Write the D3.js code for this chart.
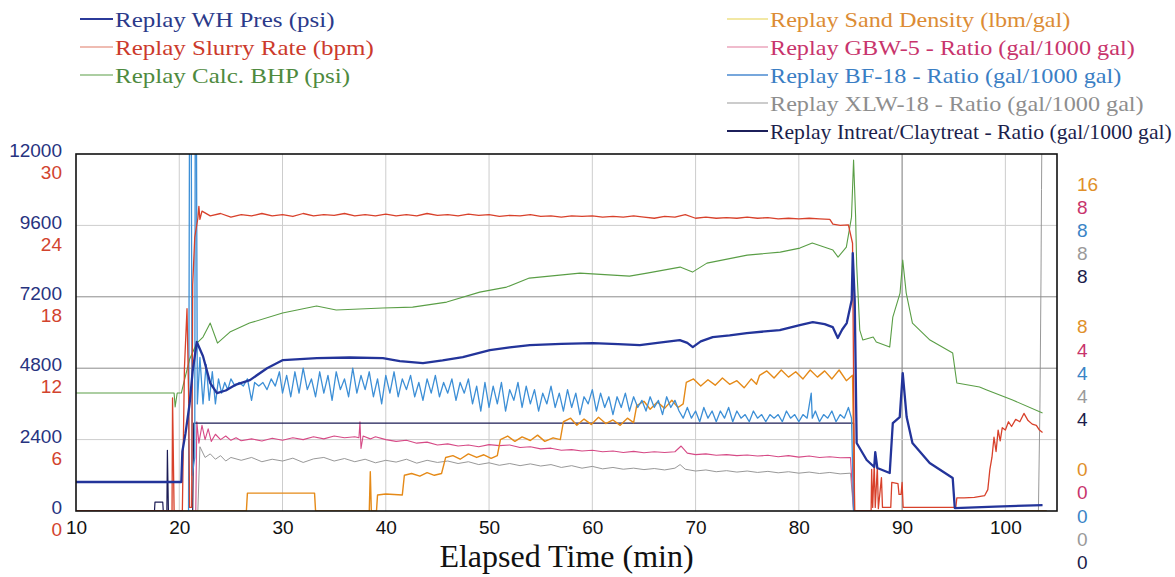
<!DOCTYPE html>
<head>
  <meta charset="utf-8">
  <title>Replay</title>
  <style>
  body { margin: 0; background: #fff; }
  .tick text { font: 19px "Liberation Sans", Arial, sans-serif; }
  .legend text { font: 22px "Liberation Serif", "Times New Roman", serif; }
  .series { fill: none; stroke-linejoin: round; }
  </style>
</head>

<svg id="chart"></svg>

<script src="https://cdn.jsdelivr.net/npm/d3@7/dist/d3.min.js"></script>

<script>
"use strict";

var totalWidth = 1175,
    totalHeight = 577;

// ticks
var timeTicks = [10, 20, 30, 40, 50, 60, 70, 80, 90, 100];
var psiTicks = [0, 2400, 4800, 7200, 9600, 12000];
var bpmTicks = [0, 6, 12, 18, 24, 30];
var sandTicks = [0, 8, 16];
var ratioTicks = [0, 4, 8];

// series, [minutes, value]
var whPres = [[10,975],[20.2,975],[20.3,2000],[20.6,2600],[21.0,3600],[21.3,4700],[21.7,5680],[22.3,5200],[23.0,4300],[23.65,3965],[24.5,4050],[25.5,4250],[26.84,4400],[28.5,4800],[30.04,5074],[33.33,5141],[36.5,5160],[39.72,5141],[41.36,5040],[43.6,4973],[45.5,5060],[47.46,5174],[50.08,5410],[52,5500],[53.95,5578],[57,5620],[60.05,5645],[62.5,5610],[64.6,5578],[66.5,5660],[68.47,5746],[69.2,5650],[69.73,5510],[70.5,5700],[71.66,5846],[73.3,5900],[74.96,5981],[78.15,6082],[80.09,6250],[81.35,6350],[82.5,6280],[83.28,6182],[83.77,5813],[84.2,6100],[84.64,6317],[85.12,7090],[85.22,8669],[85.41,7090],[85.6,2285],[86.57,1714],[87.3,1478],[87.4,1982],[87.6,1445],[88.8,1277],[89.1,2957],[89.77,3158],[90.06,4637],[90.44,3158],[91.0,2285],[92.67,1613],[94.9,1109],[95.1,100],[99,150],[103.6,200]];

var slurryRate = [[10,0],[19.3,0],[19.35,9.5],[19.5,0],[20.3,0],[20.5,12],[20.75,17],[20.9,10],[21.0,0.3],[21.2,0.3],[21.3,19],[21.5,23],[21.8,24.6],[21.9,25.6],[22.0,24.5],[22.2,25.2],[23,24.8],[24,25.0],[25,24.7],[26,24.9],[27,24.8],[28,25.0],[29,24.8],[30,24.9],[31,24.75],[32,25.0],[33,24.8],[34,24.9],[35,24.85],[36,25.0],[37,24.8],[38,24.9],[39,24.8],[40,24.95],[41,24.8],[42,24.9],[43,24.8],[44,25.0],[45,24.85],[46,24.9],[47,24.8],[48,24.95],[49,24.85],[50,24.9],[51,24.75],[52,24.85],[53,24.8],[54,24.9],[55,24.75],[56,24.8],[57,24.7],[58,24.8],[59,24.75],[60,24.8],[61,24.7],[62,24.75],[63,24.7],[64,24.8],[65,24.7],[66,24.6],[67,24.75],[68,24.7],[69,24.9],[70,24.6],[71,24.7],[72,24.6],[73,24.65],[74,24.6],[75,24.7],[76,24.6],[77,24.65],[78,24.55],[79,24.6],[80,24.55],[81,24.6],[82,24.55],[83,24.5],[83.3,24.1],[84,24.0],[84.8,24.05],[85.2,22.5],[85.4,0],[87.0,0],[87.05,3.5],[87.15,0.3],[87.3,3.9],[87.4,0.3],[87.6,3.7],[87.7,0.2],[88.0,2.8],[88.1,0.3],[88.9,0.3],[89.0,2.4],[89.6,2.3],[89.7,1.4],[89.9,1.4],[90.0,2.4],[90.1,0.3],[95.2,0.3],[95.3,1.1],[96,1.1],[97,1.15],[98,1.3],[98.3,1.8],[98.5,3.5],[98.7,4.5],[98.9,6.2],[99.1,5.0],[99.3,6.8],[99.5,5.9],[99.7,7.0],[100,6.8],[100.3,7.5],[100.6,7.1],[101,7.7],[101.4,7.5],[101.8,8.2],[102.2,7.6],[102.6,7.3],[103,7.2],[103.3,6.8],[103.6,6.6]];

var calcBhp = [[10,3965],[19.5,3965],[19.6,3500],[19.8,3965],[20.2,3965],[20.5,4400],[21.0,5100],[21.7,5645],[22.3,5846],[23.0,6317],[23.7,5645],[24.9,6014],[26.8,6317],[30.0,6653],[33.3,6888],[35.2,6754],[39.7,6821],[42.6,6854],[45.9,7022],[49.1,7358],[51.7,7526],[53.9,7829],[58.8,7997],[63.6,7896],[65.3,7997],[68.5,8198],[69.7,8030],[71.1,8333],[75.0,8602],[78.2,8702],[80.1,8837],[81.3,9005],[83.3,8770],[83.8,8534],[84.6,8870],[85.1,9878],[85.3,11794],[85.5,9878],[85.6,8266],[85.9,6082],[86.2,5746],[87.2,5846],[87.5,5678],[88.8,5510],[89.1,6518],[89.8,7325],[90.06,8434],[90.4,7325],[91.0,6317],[92.7,5746],[94.9,5309],[95.3,4301],[97.5,4166],[98.2,4066],[100.7,3730],[103.6,3293]];

var sandDensity = [[10,0],[26.5,0],[26.6,1.0],[33.1,1.0],[33.2,0],[38.4,0],[38.5,2.2],[38.6,0],[39.1,0],[39.2,0.9],[40,0.95],[41.6,0.9],[41.8,2.0],[42.5,2.1],[43.3,1.95],[44,2.15],[44.7,2.0],[45.4,2.1],[45.8,3.0],[46.5,3.1],[47.2,2.9],[48,3.2],[48.8,3.0],[49.5,3.15],[50.2,2.95],[50.8,3.1],[51.1,4.0],[51.8,4.2],[52.5,3.9],[53.2,4.15],[54,3.95],[54.7,4.25],[55.4,3.9],[56.2,4.1],[56.9,4.0],[57.2,5.0],[57.9,5.2],[58.5,4.8],[59.2,5.15],[59.9,4.85],[60.6,5.25],[61.3,4.9],[62,5.1],[62.7,4.8],[63.4,5.2],[64,4.95],[64.3,5.9],[65,6.15],[65.6,5.7],[66.3,6.1],[67,5.75],[67.7,6.2],[68.3,5.8],[68.8,6.0],[69.1,7.2],[69.8,7.4],[70.5,7.0],[71.2,7.35],[71.9,7.05],[72.6,7.45],[73.3,7.1],[74,7.3],[74.7,6.9],[75.4,7.4],[75.9,7.1],[76.2,7.6],[76.9,7.85],[77.6,7.45],[78.3,7.9],[79,7.5],[79.7,7.8],[80.4,7.4],[81.1,7.9],[81.8,7.5],[82.5,7.85],[83.2,7.4],[83.9,7.9],[84.6,7.3],[85.2,7.6],[85.4,0],[104,0]];

var gbw5 = [[21.6,0],[21.7,2.5],[21.9,1.9],[22.2,2.4],[22.5,2.0],[22.8,2.3],[23.1,1.95],[23.5,2.15],[24,2.0],[24.5,2.1],[25,1.98],[25.5,2.05],[26,1.97],[27,2.02],[28,1.96],[29,2.04],[30,1.98],[31,2.05],[32,2.0],[33,2.08],[34,2.02],[35,2.1],[36,2.05],[37,2.08],[37.4,2.05],[37.5,2.5],[37.6,1.75],[37.8,2.1],[38.5,2.02],[39,2.08],[40,2.0],[41,1.95],[42,1.98],[43,1.9],[44,1.93],[45,1.85],[46,1.88],[47,1.82],[48,1.85],[49,1.8],[50,1.86],[51,1.83],[52,1.85],[53,1.78],[54,1.8],[55,1.74],[56,1.76],[57,1.7],[58,1.72],[59,1.68],[60,1.7],[61,1.66],[62,1.68],[63,1.64],[64,1.67],[65,1.63],[66,1.66],[67,1.64],[68,1.66],[68.6,1.82],[69.2,1.62],[70,1.58],[71,1.6],[72,1.56],[73,1.58],[74,1.55],[75,1.57],[76,1.54],[77,1.56],[78,1.52],[79,1.55],[80,1.51],[81,1.54],[82,1.5],[83,1.52],[84,1.49],[85,1.5],[85.3,0]];

var bf18 = [[20.9,0],[21.0,12],[21.15,12],[21.25,1],[21.5,1.5],[21.55,12],[21.65,12],[21.75,3.0],[22.0,4.3],[22.3,3.0],[22.6,4.1],[22.9,3.1],[23.2,3.9],[23.5,3.0],[23.8,3.7],[24.1,3.3],[24.4,3.6],[24.7,3.4],[25.0,3.7],[25.4,3.5],[25.8,3.6],[26.2,3.5],[26.6,3.7],[27.0,3.1],[27.3,3.6],[27.7,3.5],[28.1,3.6],[28.5,3.4],[28.9,3.7],[29.3,3.5],[29.7,3.9],[30.0,3.3],[30.4,3.8],[30.8,3.2],[31.2,3.9],[31.6,3.3],[32.0,4.0],[32.4,3.4],[32.8,3.7],[33.2,3.2],[33.6,3.9],[34.0,3.3],[34.4,3.8],[34.8,3.1],[35.2,3.9],[35.6,3.4],[36.0,3.7],[36.4,3.2],[36.8,4.0],[37.2,3.3],[37.6,3.8],[38.0,3.4],[38.4,3.9],[38.8,3.2],[39.2,3.7],[39.6,3.0],[40.0,3.8],[40.4,3.3],[40.8,3.9],[41.2,3.2],[41.6,3.7],[42.0,3.4],[42.4,3.8],[42.8,3.2],[43.2,3.6],[43.6,3.1],[44.0,3.7],[44.4,3.3],[44.8,3.8],[45.2,3.2],[45.6,3.6],[46.0,3.3],[46.4,3.7],[46.8,3.1],[47.2,3.6],[47.6,3.3],[48.0,3.7],[48.4,3.0],[48.8,3.5],[49.2,2.8],[49.6,3.6],[50.0,2.9],[50.4,3.5],[50.8,3.0],[51.2,3.6],[51.6,2.8],[52.0,3.4],[52.4,3.1],[52.8,3.6],[53.2,2.9],[53.6,3.5],[54.0,3.0],[54.4,3.4],[54.8,2.8],[55.2,3.3],[55.6,3.0],[56.0,3.5],[56.4,2.9],[56.8,3.3],[57.2,2.8],[57.6,3.4],[58.0,2.9],[58.4,3.3],[58.8,2.7],[59.2,3.2],[59.6,3.0],[60.0,3.4],[60.4,2.8],[60.8,3.3],[61.2,2.9],[61.6,3.2],[62.0,2.7],[62.4,3.2],[62.8,2.9],[63.2,3.3],[63.6,2.8],[64.0,3.2],[64.4,2.9],[64.8,3.1],[65.2,2.8],[65.6,3.2],[66.0,2.9],[66.4,3.1],[66.8,2.7],[67.2,3.2],[67.6,2.9],[68.0,3.1],[68.4,2.8],[68.8,2.6],[69.2,2.9],[69.6,2.6],[70.0,2.8],[70.4,2.5],[70.8,2.9],[71.2,2.6],[71.6,2.8],[72.0,2.5],[72.4,2.8],[72.8,2.6],[73.2,2.9],[73.6,2.5],[74.0,2.8],[74.4,2.6],[74.8,2.7],[75.2,2.5],[75.6,2.8],[76.0,2.6],[76.4,2.7],[76.8,2.5],[77.2,2.7],[77.6,2.6],[78.0,2.7],[78.4,2.5],[78.8,2.8],[79.2,2.6],[79.6,2.7],[80.0,2.5],[80.4,2.7],[80.8,2.6],[81.2,3.3],[81.3,2.6],[81.6,2.8],[82.0,2.5],[82.4,2.7],[82.8,2.6],[83.2,2.8],[83.6,2.5],[84.0,2.7],[84.4,2.6],[84.8,2.9],[85.1,2.6],[85.3,0]];

var xlw18 = [[21.8,0],[22.0,1.8],[22.5,1.5],[23,1.6],[23.5,1.45],[24,1.55],[24.5,1.4],[25,1.5],[26,1.42],[27,1.5],[28,1.38],[29,1.45],[30,1.4],[31,1.48],[32,1.36],[33,1.46],[34,1.5],[35,1.4],[36,1.47],[37,1.38],[38,1.45],[39,1.35],[40,1.42],[41,1.37],[42,1.45],[43,1.34],[44,1.42],[45,1.36],[46,1.4],[47,1.33],[48,1.38],[49,1.3],[50,1.35],[51,1.28],[52,1.33],[53,1.27],[54,1.32],[55,1.26],[56,1.3],[57,1.22],[58,1.27],[59,1.2],[60,1.25],[61,1.18],[62,1.22],[63,1.17],[64,1.2],[65,1.16],[66,1.19],[67,1.15],[68,1.2],[68.5,1.3],[69,1.17],[70,1.12],[71,1.15],[72,1.1],[73,1.13],[74,1.09],[75,1.12],[76,1.08],[77,1.11],[78,1.07],[79,1.1],[80,1.06],[81,1.09],[82,1.05],[83,1.08],[84,1.04],[85,1.06],[85.3,0],[103.2,0],[103.35,3],[103.45,6.5],[103.5,9],[103.55,11]];

var intreat = [[10,0],[17.6,0],[17.65,0.25],[18.4,0.25],[18.45,0],[18.8,0],[18.85,1.7],[18.95,0],[21.3,0],[21.4,2.46],[85.3,2.46],[85.35,0],[104,0]];

var chart = d3.select("#chart")
    .attr("width", totalWidth)
    .attr("height", totalHeight);

var margin = {top: 154, right: 118, bottom: 66, left: 76},
    width = totalWidth - margin.left - margin.right,
    height = totalHeight - margin.top - margin.bottom;

// escalas
var x = d3.scaleLinear().domain([10, 105]).range([margin.left, margin.left + width]);
var yPsi = d3.scaleLinear().domain([0, 12000]).range([margin.top + height, margin.top]);
var yBpm = d3.scaleLinear().domain([0, 30]).range(yPsi.range());
var ySand = d3.scaleLinear().domain([0, 20]).range(yPsi.range());
var yRatio = d3.scaleLinear().domain([0, 10]).range(yPsi.range());

chart.append("defs").append("clipPath").attr("id", "plot")
  .append("rect")
    .attr("x", margin.left).attr("y", margin.top)
    .attr("width", width).attr("height", height);

// grade
chart.append("g").selectAll("line")
    .data(timeTicks.filter(function(d) { return d > 10; }))
  .enter().append("line")
    .attr("x1", x).attr("x2", x)
    .attr("y1", margin.top).attr("y2", margin.top + height)
    .attr("stroke", function(d) { return d === 90 ? "#7a7a7a" : "#cdcdcd"; })
    .attr("stroke-width", 1);

chart.append("g").selectAll("line")
    .data(psiTicks.filter(function(d) { return d > 0 && d < 12000; }))
  .enter().append("line")
    .attr("x1", margin.left).attr("x2", margin.left + width)
    .attr("y1", yPsi).attr("y2", yPsi)
    .attr("stroke", function(d) { return (d === 4800 || d === 7200) ? "#8c8c8c" : "#cdcdcd"; })
    .attr("stroke-width", 1);

// series
var series = [
  {data: xlw18, y: yRatio, color: "#8c8c8c", w: 0.9},
  {data: gbw5, y: yRatio, color: "#d64a86", w: 1.1},
  {data: intreat, y: yRatio, color: "#1c1c55", w: 1.2},
  {data: sandDensity, y: ySand, color: "#e58a18", w: 1.4},
  {data: bf18, y: yRatio, color: "#3d8fd6", w: 1.3},
  {data: calcBhp, y: yPsi, color: "#5a9e46", w: 1.1},
  {data: slurryRate, y: yBpm, color: "#d8412b", w: 1.3},
  {data: whPres, y: yPsi, color: "#23349a", w: 2.3}
];

var plot = chart.append("g").attr("clip-path", "url(#plot)");

series.forEach(function(s) {
  var line = d3.line()
      .x(function(d) { return x(d[0]); })
      .y(function(d) { return s.y(d[1]); });
  plot.append("path")
      .datum(s.data)
      .attr("class", "series")
      .attr("stroke", s.color)
      .attr("stroke-width", s.w)
      .attr("d", line);
});

chart.append("rect")
    .attr("x", margin.left).attr("y", margin.top)
    .attr("width", width).attr("height", height)
    .attr("fill", "none").attr("stroke", "#111").attr("stroke-width", 1.6);

// eixos
function cleanAxis(g, color) {
  g.select(".domain").remove();
  g.selectAll(".tick line").remove();
  g.selectAll(".tick text").attr("fill", color).attr("dy", "0.35em");
}

chart.append("g")
    .attr("transform", "translate(0,527)")
    .call(d3.axisBottom(x).tickValues(timeTicks).tickSize(0).tickPadding(0))
    .call(function(g) { cleanAxis(g, "#111"); g.selectAll(".tick text").attr("y", 0); });

chart.append("g")
    .attr("transform", "translate(62,-4)")
    .call(d3.axisLeft(yPsi).tickValues(psiTicks).tickSize(0).tickPadding(0).tickFormat(d3.format("d")))
    .call(function(g) { cleanAxis(g, "#27337f"); });

chart.append("g")
    .attr("transform", "translate(62,18)")
    .call(d3.axisLeft(yBpm).tickValues(bpmTicks).tickSize(0).tickPadding(0))
    .call(function(g) { cleanAxis(g, "#d2432e"); });

var rightAxes = [
  {scale: ySand, ticks: sandTicks, color: "#e0902a"},
  {scale: yRatio, ticks: ratioTicks, color: "#c8346c"},
  {scale: yRatio, ticks: ratioTicks, color: "#3a84c6"},
  {scale: yRatio, ticks: ratioTicks, color: "#9a9a9a"},
  {scale: yRatio, ticks: ratioTicks, color: "#1c1c4a"}
];

rightAxes.forEach(function(a, i) {
  chart.append("g")
      .attr("transform", "translate(1077," + (-42 + i * 23.2) + ")")
      .call(d3.axisRight(a.scale).tickValues(a.ticks).tickSize(0).tickPadding(0))
      .call(function(g) { cleanAxis(g, a.color); });
});

chart.append("text")
    .attr("x", (margin.left + margin.left + width) / 2)
    .attr("y", 567)
    .attr("text-anchor", "middle")
    .attr("fill", "#111")
    .style("font", "32px 'Liberation Serif', 'Times New Roman', serif")
    .text("Elapsed Time (min)");

// legendas
var leftLegend = [
  {label: "Replay WH Pres (psi)", line: "#2b3a9a", text: "#2b3a8a", w: 2.2},
  {label: "Replay Slurry Rate (bpm)", line: "#e07a66", text: "#cc3a2c", w: 1.2},
  {label: "Replay Calc. BHP (psi)", line: "#5a9e46", text: "#4e8a3e", w: 1.2}
];

var rightLegend = [
  {label: "Replay Sand Density (lbm/gal)", line: "#e6d24a", text: "#dc8c34", w: 1.2},
  {label: "Replay GBW-5 - Ratio (gal/1000 gal)", line: "#e27a9c", text: "#c8346c", w: 1.2},
  {label: "Replay BF-18 - Ratio (gal/1000 gal)", line: "#4a8ad0", text: "#3a7ec4", w: 1.4},
  {label: "Replay XLW-18 - Ratio (gal/1000 gal)", line: "#9a9a9a", text: "#8e8e8e", w: 1.2},
  {label: "Replay Intreat/Claytreat - Ratio (gal/1000 gal)", line: "#1c1f5a", text: "#1c1f4c", w: 1.8}
];

function drawLegend(items, x0, x1, tx, refIndex, refWidth, maxRight) {
  var g = chart.append("g").attr("class", "legend");
  var rows = g.selectAll("g").data(items).enter().append("g")
      .attr("transform", function(d, i) { return "translate(0," + (19 + i * 28) + ")"; });
  rows.append("line")
      .attr("x1", x0).attr("x2", x1)
      .attr("stroke", function(d) { return d.line; })
      .attr("stroke-width", function(d) { return d.w; });
  var texts = rows.append("text")
      .attr("x", 0)
      .attr("dy", "0.35em")
      .attr("fill", function(d) { return d.text; })
      .text(function(d) { return d.label; });
  var sx = refWidth / texts.nodes()[refIndex].getComputedTextLength();
  texts.attr("transform", function() {
    // a linha mais longa é apertada para caber na figura
    var s = Math.min(sx, (maxRight - tx) / this.getComputedTextLength());
    return "translate(" + tx + ",0) scale(" + s + ",1)";
  });
}

drawLegend(leftLegend, 80, 113, 115, 1, 259, 700);
drawLegend(rightLegend, 727, 768, 770, 1, 365, 1172);

</script>
